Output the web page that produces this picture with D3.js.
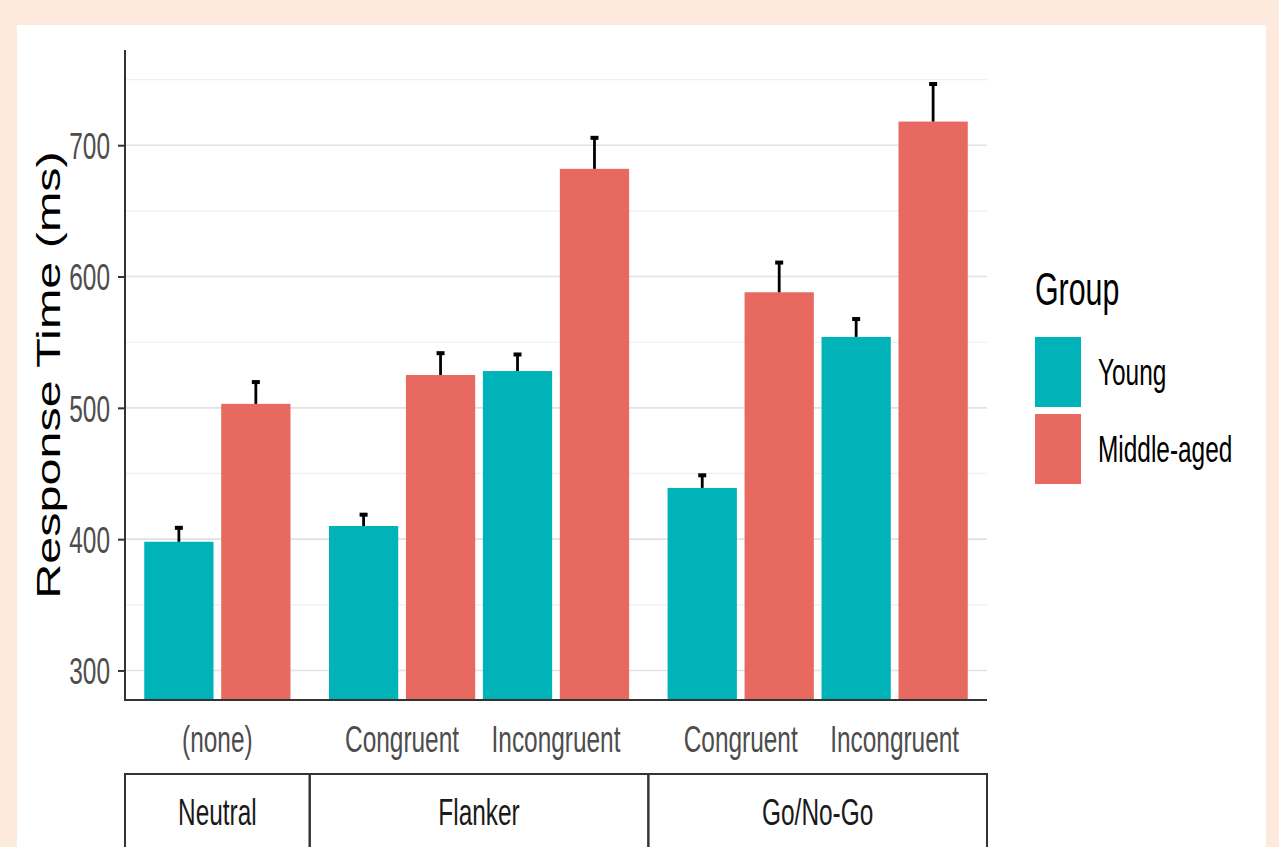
<!DOCTYPE html>
<html>
<head>
<meta charset="utf-8">
<script src="https://cdn.jsdelivr.net/npm/d3@7"></script>
<style>
html,body{margin:0;padding:0;background:#FDEADC;}
svg{display:block;}
text{font-family:"Liberation Sans",Arial,Helvetica,sans-serif;}
</style>
</head>
<body>
<svg id="chart" width="1279" height="847"></svg>
<script>
// ---- data ----
const tasks = ["Neutral", "Flanker", "Go/No-Go"];
const conditions = [["(none)"], ["Congruent", "Incongruent"], ["Congruent", "Incongruent"]];
const groups = ["Young", "Middle-aged"];
const youngMeans = [398, 410, 528, 439, 554];
const middleMeans = [503, 525, 682, 588, 718];
const youngUpper = [409, 419, 541, 449, 568];
const middleUpper = [520, 542, 706, 611, 747];
const yTicks = [300, 400, 500, 600, 700];
const yMinor = [350, 450, 550, 650, 750];
const colors = ["#00B3B8", "#E8695F"];

(function () {
const SX = 0.66; // horizontal squeeze of glyphs as in the reference
const svg = d3.select("#chart");

// panel
svg.append("rect").attr("x", 17).attr("y", 25).attr("width", 1249).attr("height", 830).attr("fill", "#ffffff");

const pL = 125, pR = 987, pT = 50, pB = 700;
const y = d3.scaleLinear().domain([277.5, 772.5]).range([pB, pT]);

// facet widths proportional to (n-1+1.2)
const units = conditions.map(c => c.length - 1 + 1.2);
const cum = [0];
units.forEach(u => cum.push(cum[cum.length - 1] + u));
const fx = d3.scaleLinear().domain([0, cum[cum.length - 1]]).range([pL, pR]);
const unitPx = fx(1) - fx(0);

// rows
const rows = [];
let k = 0;
tasks.forEach((t, ti) => {
  const xp = d3.scalePoint().domain(conditions[ti]).range([fx(cum[ti]), fx(cum[ti + 1])]).padding(0.6);
  conditions[ti].forEach(c => {
    rows.push({task: t, ti, cond: c, cx: xp(c), vals: [youngMeans[k], middleMeans[k]], ups: [youngUpper[k], middleUpper[k]]});
    k++;
  });
});

// gridlines
const g = svg.append("g");
g.selectAll("line.minor").data(yMinor).join("line").attr("class", "minor")
  .attr("x1", pL).attr("x2", pR).attr("y1", d => y(d)).attr("y2", d => y(d))
  .attr("stroke", "#efefef").attr("stroke-width", 1.3);
g.selectAll("line.major").data(yTicks).join("line").attr("class", "major")
  .attr("x1", pL).attr("x2", pR).attr("y1", d => y(d)).attr("y2", d => y(d))
  .attr("stroke", "#e2e2e2").attr("stroke-width", 1.6);

// bars
const clip = svg.append("defs").append("clipPath").attr("id", "clip");
clip.append("rect").attr("x", pL).attr("y", pT - 10).attr("width", pR - pL).attr("height", pB - pT + 10);
const barsG = svg.append("g").attr("clip-path", "url(#clip)");
rows.forEach(r => {
  const xb = d3.scaleBand().domain(groups).range([r.cx - unitPx / 2, r.cx + unitPx / 2]).paddingInner(0.1).paddingOuter(0.05);
  groups.forEach((gname, gi) => {
    const x0 = xb(gname), w = xb.bandwidth();
    barsG.append("rect").attr("x", x0).attr("width", w)
      .attr("y", y(r.vals[gi])).attr("height", y(277.5) - y(r.vals[gi]) + 5)
      .attr("fill", colors[gi]);
    const xc = x0 + w / 2;
    barsG.append("line").attr("x1", xc).attr("x2", xc).attr("y1", y(r.vals[gi])).attr("y2", y(r.ups[gi]))
      .attr("stroke", "#000").attr("stroke-width", 2.8);
    barsG.append("line").attr("x1", xc - 4).attr("x2", xc + 4).attr("y1", y(r.ups[gi]) + 0.5).attr("y2", y(r.ups[gi]) + 0.5)
      .attr("stroke", "#000").attr("stroke-width", 4);
  });
});

// y axis
const yAxis = svg.append("g").attr("transform", `translate(${pL},0)`)
  .call(d3.axisLeft(y).tickValues(yTicks).tickSize(7).tickPadding(0).tickFormat(d3.format("d")));
yAxis.select(".domain").remove();
yAxis.selectAll(".tick line").attr("stroke", "#333").attr("stroke-width", 2);
yAxis.selectAll(".tick text")
  .attr("x", null).attr("dy", "0.36em")
  .attr("transform", `translate(-15,0) scale(${SX},1)`)
  .attr("fill", "#4d4d4d").attr("font-size", 37).attr("text-anchor", "end");
svg.append("line").attr("x1", pL).attr("x2", pL).attr("y1", pT).attr("y2", pB + 1)
  .attr("stroke", "#333").attr("stroke-width", 2);
svg.append("line").attr("x1", pL - 1).attr("x2", pR).attr("y1", pB).attr("y2", pB)
  .attr("stroke", "#333").attr("stroke-width", 2);

// y title
svg.append("text").attr("transform", `translate(60,${(pT + pB) / 2}) scale(0.68,1) rotate(-90)`)
  .attr("text-anchor", "middle").attr("font-size", 48.5).attr("fill", "#000").text("Response Time (ms)");

// x labels
svg.selectAll("text.xlab").data(rows).join("text").attr("class", "xlab")
  .attr("transform", d => `translate(${d.cx},752) scale(${SX},1)`)
  .attr("text-anchor", "middle").attr("font-size", 37).attr("fill", "#4d4d4d").text(d => d.cond);

// strips
tasks.forEach((t, ti) => {
  const x0 = fx(cum[ti]), x1 = fx(cum[ti + 1]);
  svg.append("rect").attr("x", x0).attr("y", 774).attr("width", x1 - x0).attr("height", 100)
    .attr("fill", "none").attr("stroke", "#333").attr("stroke-width", 2);
  svg.append("text").attr("transform", `translate(${(x0 + x1) / 2},825) scale(${SX},1)`)
    .attr("text-anchor", "middle").attr("font-size", 37).attr("fill", "#1a1a1a").text(t);
});

// legend
svg.append("text").attr("transform", `translate(1035,305) scale(${SX},1)`)
  .attr("font-size", 46).attr("fill", "#000").text("Group");
groups.forEach((gname, gi) => {
  const ky = 337 + gi * 77;
  svg.append("rect").attr("x", 1035).attr("y", ky).attr("width", 46).attr("height", 70).attr("fill", colors[gi]);
  svg.append("text").attr("transform", `translate(1098,${ky + 48}) scale(${SX},1)`)
    .attr("font-size", 37).attr("fill", "#000").text(gname);
});
})();
</script>
</body>
</html>
